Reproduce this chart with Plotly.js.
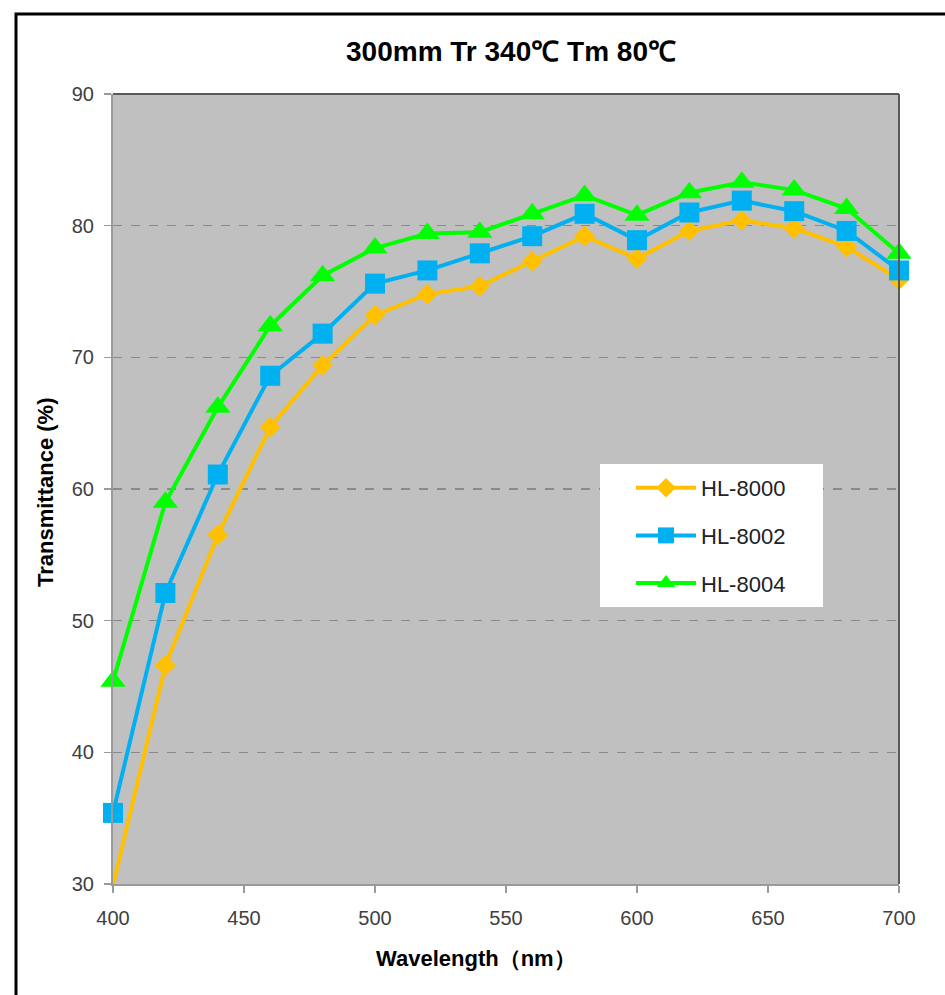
<!DOCTYPE html>
<html>
<head>
<meta charset="utf-8">
<script src="https://cdn.plot.ly/plotly-3.0.1.min.js"></script>
<style>
html,body{margin:0;padding:0;background:#fff;}
#chart{width:945px;height:995px;}
</style>
</head>
<body>
<div id="chart"></div>
<script>
// Data
const wavelength = [400,420,440,460,480,500,520,540,560,580,600,620,640,660,680,700];
const hl8000 = [29.9,46.6,56.5,64.7,69.4,73.2,74.8,75.4,77.3,79.2,77.5,79.6,80.4,79.8,78.4,75.9];
const hl8002 = [35.4,52.1,61.1,68.6,71.8,75.6,76.6,77.9,79.2,80.9,78.9,81.0,81.9,81.1,79.6,76.6];
const hl8004 = [45.4,59.0,66.2,72.4,76.2,78.3,79.4,79.5,80.9,82.3,80.8,82.5,83.3,82.7,81.3,77.9];
const seriesNames = ['HL-8000','HL-8002','HL-8004'];
const xTicks = [400,450,500,550,600,650,700];
const yTicks = [30,40,50,60,70,80,90];
const chartTitle = '300mm Tr 340℃ Tm 80℃';
const xTitle = 'Wavelength（nm）';
const yTitle = 'Transmittance (%)';

const Y_MIN = 30, Y_MAX = 90;
// Excel hides markers that fall outside the axis range
const visSize = (arr, s) => arr.map(v => (v < Y_MIN || v > Y_MAX) ? 0 : s);

const tickFont = {family:'Arial, "Liberation Sans", sans-serif', size:20, color:'#404040'};
const titleFamily = 'Arial, "Liberation Sans", sans-serif';

const mk = (symbol, arr, s, color) => ({symbol:symbol, size:visSize(arr,s), color:color, opacity:1, line:{width:0, color:color}});

const traces = [
  {x:wavelength, y:hl8000, name:seriesNames[0], mode:'lines+markers', legendgroup:'a', cliponaxis:false,
   line:{color:'#FFC000', width:4}, marker:mk('diamond', hl8000, 16, '#FFC000')},
  {x:wavelength, y:hl8002, name:seriesNames[1], mode:'lines+markers', legendgroup:'b', cliponaxis:false,
   line:{color:'#00B0F0', width:4}, marker:mk('square', hl8002, 20, '#00B0F0')},
  {x:wavelength, y:hl8004, name:seriesNames[2], mode:'lines+markers', legendgroup:'c', cliponaxis:false,
   line:{color:'#00FF00', width:4}, marker:mk('triangle-up', hl8004, 22, '#00FF00')}
];

const px = v => (v-113)/786;
const py = v => (884-v)/790;

const layout = {
  width:945, height:995,
  margin:{l:113, r:46, t:94, b:111},
  paper_bgcolor:'#ffffff',
  plot_bgcolor:'#C0C0C0',
  showlegend:true,
  title:{text:'<b>'+chartTitle+'</b>', font:{family:titleFamily, size:28, color:'#000'},
         x:px(511), xref:'paper', xanchor:'center', y:1-51/995, yanchor:'middle'},
  xaxis:{range:[400,700], tickvals:xTicks, ticktext:xTicks.map(String),
         showgrid:false, zeroline:false, showline:true, linecolor:'#9a9a9a', linewidth:2,
         ticks:'outside', ticklen:7, tickcolor:'#9a9a9a', tickwidth:1.5,
         tickfont:tickFont, ticklabelstandoff:8},
  yaxis:{range:[Y_MIN,Y_MAX], tickvals:yTicks, ticktext:yTicks.map(String),
         showgrid:true, gridcolor:'#8a8a8a', griddash:'dash', gridwidth:1.5,
         zeroline:false, showline:true, linecolor:'#9a9a9a', linewidth:2,
         ticks:'outside', ticklen:7, tickcolor:'#9a9a9a', tickwidth:1.5,
         tickfont:tickFont, ticklabelstandoff:6},
  annotations:[
    {text:'<b>'+xTitle+'</b>', xref:'paper', yref:'paper', x:px(476), y:py(958),
     xanchor:'center', yanchor:'middle', showarrow:false,
     font:{family:titleFamily, size:22, color:'#000'}},
    {text:'<b>'+yTitle+'</b>', xref:'paper', yref:'paper', x:px(45), y:py(492),
     xanchor:'center', yanchor:'middle', showarrow:false, textangle:-90,
     font:{family:titleFamily, size:22, color:'#000'}}
  ],
  legend:{x:px(631), y:py(467), xanchor:'left', yanchor:'top',
          bgcolor:'rgba(0,0,0,0)', borderwidth:0,
          font:{family:'Arial, "Liberation Sans", sans-serif', size:22, color:'#222'},
          tracegroupgap:16, itemwidth:60},
  shapes:[
    {type:'rect', xref:'paper', yref:'paper', x0:px(600), x1:px(823), y0:py(607), y1:py(464),
     fillcolor:'#ffffff', line:{width:0}, layer:'above'},
    {type:'line', xref:'paper', yref:'paper', x0:0, x1:1, y0:1, y1:1, line:{color:'#5a5a5a', width:2}},
    {type:'line', xref:'paper', yref:'paper', x0:1, x1:1, y0:0, y1:1, line:{color:'#5a5a5a', width:2}},
    {type:'path', xref:'paper', yref:'paper',
     path:`M ${px(16)} ${py(1000)} L ${px(16)} ${py(14)} L ${px(950)} ${py(14)}`,
     line:{color:'#000', width:3}}
  ]
};

Plotly.newPlot('chart', traces, layout, {displayModeBar:false, staticPlot:true});
</script>
</body>
</html>
